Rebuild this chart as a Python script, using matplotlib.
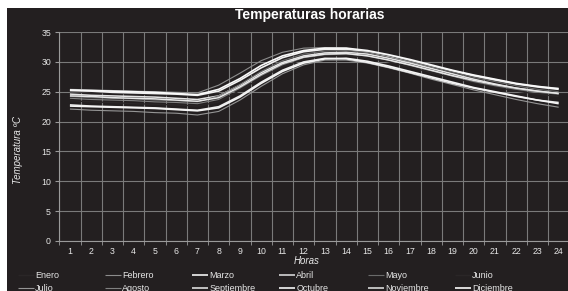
import matplotlib
matplotlib.use('Agg')
import matplotlib.pyplot as plt
from matplotlib.patches import Rectangle

plt.rcParams['font.family'] = ['Liberation Sans', 'DejaVu Sans']

hours = list(range(1, 25))
months = ['Enero', 'Febrero', 'Marzo', 'Abril', 'Mayo', 'Junio',
          'Julio', 'Agosto', 'Septiembre', 'Octubre', 'Noviembre', 'Diciembre']

enero = [25.0, 24.9, 24.8, 24.6, 24.5, 24.4, 24.2, 25.0, 26.8, 28.9, 30.6, 31.6,
         32.0, 31.9, 31.5, 30.8, 30.0, 29.1, 28.3, 27.5, 26.8, 26.2, 25.7, 25.3]
febrero = [25.4, 25.3, 25.2, 25.1, 25.0, 24.9, 24.8, 26.1, 28.1, 30.2, 31.6, 32.3,
           32.4, 32.3, 31.7, 30.9, 30.0, 29.2, 28.4, 27.6, 26.9, 26.3, 25.9, 25.6]
marzo = [25.2, 25.1, 24.9, 24.8, 24.7, 24.6, 24.4, 25.1, 26.9, 29.0, 30.7, 31.7,
         32.1, 32.1, 31.7, 31.0, 30.2, 29.3, 28.5, 27.7, 27.0, 26.3, 25.8, 25.4]
abril = [24.6, 24.4, 24.3, 24.2, 24.1, 23.9, 23.7, 24.3, 26.1, 28.2, 29.9, 31.0,
         31.5, 31.6, 31.3, 30.6, 29.8, 28.9, 28.0, 27.1, 26.3, 25.6, 25.1, 24.7]
mayo = [24.2, 24.0, 23.9, 23.8, 23.6, 23.5, 23.3, 24.3, 26.2, 28.4, 30.2, 31.3,
        31.8, 31.9, 31.6, 31.0, 30.1, 29.2, 28.3, 27.4, 26.7, 26.0, 25.4, 25.0]
junio = [23.5, 23.3, 23.2, 23.0, 22.9, 22.8, 22.6, 23.3, 25.2, 27.3, 29.2, 30.4,
         31.0, 31.1, 30.7, 30.0, 29.1, 28.2, 27.3, 26.5, 25.8, 25.1, 24.6, 24.2]
julio = [22.1, 21.9, 21.8, 21.7, 21.5, 21.4, 21.1, 21.7, 23.6, 25.9, 28.0, 29.5,
         30.3, 30.3, 29.8, 29.0, 28.1, 27.1, 26.2, 25.3, 24.5, 23.7, 23.0, 22.4]
agosto = [23.9, 23.7, 23.6, 23.5, 23.3, 23.2, 23.0, 23.7, 25.6, 27.7, 29.5, 30.7,
          31.2, 31.3, 31.0, 30.3, 29.4, 28.5, 27.6, 26.7, 26.0, 25.4, 24.9, 24.6]
septiembre = [22.8, 22.6, 22.5, 22.4, 22.3, 22.1, 21.9, 22.5, 24.3, 26.6, 28.6, 30.0,
              30.6, 30.5, 29.9, 29.1, 28.2, 27.3, 26.4, 25.6, 24.9, 24.2, 23.6, 23.2]
octubre = [22.6, 22.5, 22.4, 22.3, 22.2, 22.0, 21.8, 22.3, 24.1, 26.4, 28.4, 29.8,
           30.5, 30.6, 30.1, 29.3, 28.4, 27.5, 26.6, 25.7, 25.0, 24.3, 23.6, 23.0]
noviembre = [24.3, 24.2, 24.0, 23.9, 23.8, 23.6, 23.4, 24.0, 25.8, 27.9, 29.7, 30.8,
             31.3, 31.4, 31.0, 30.3, 29.5, 28.6, 27.7, 26.9, 26.2, 25.6, 25.1, 24.7]
diciembre = [25.3, 25.2, 25.1, 25.0, 24.9, 24.7, 24.5, 25.4, 27.2, 29.4, 31.0, 31.9,
             32.3, 32.3, 31.9, 31.2, 30.4, 29.5, 28.6, 27.8, 27.1, 26.4, 25.9, 25.5]

series = [enero, febrero, marzo, abril, mayo, junio,
          julio, agosto, septiembre, octubre, noviembre, diciembre]
colors = ['#2a2627', '#8c8c8c', '#f2f2f2', '#e4e4e4', '#6a6a6a', '#2a2627',
          '#959595', '#808080', '#ececec', '#f5f5f5', '#e8e8e8', '#fafafa']
widths = [1.0, 0.8, 1.2, 1.1, 0.8, 1.0, 0.8, 0.8, 1.1, 1.2, 1.1, 1.2]

W, H = 568, 291
bg = '#231f20'
fig = plt.figure(figsize=(W / 100, H / 100), dpi=100, facecolor='white')
fig.patches.append(Rectangle((7 / W, 0), 1, 1 - 8 / H, transform=fig.transFigure,
                             facecolor=bg, edgecolor='none', zorder=-10))

ax = fig.add_axes([59.3 / W, 1 - 241 / H, 510 / W, 209 / H])
ax.set_facecolor(bg)
ax.set_xlim(0.5, 24.5)
ax.set_ylim(0, 35)
ax.set_yticks(range(0, 36, 5))
ax.set_xticks(hours)
ax.set_xticks([h + 0.5 for h in range(0, 25)], minor=True)
ax.grid(which='minor', axis='x', color='#7a7a7a', lw=0.8)
ax.grid(which='major', axis='y', color='#7a7a7a', lw=0.8)
ax.grid(which='major', axis='x', visible=False)
ax.tick_params(axis='x', which='major', length=0, labelcolor='#e6e6e6', labelsize=6.3, pad=4)
ax.tick_params(axis='x', which='minor', length=3, color='#9a9a9a')
ax.tick_params(axis='y', length=3, color='#9a9a9a', labelcolor='#e6e6e6', labelsize=6.3, pad=3)
for s in ['top', 'right']:
    ax.spines[s].set_visible(False)
for s in ['left', 'bottom']:
    ax.spines[s].set_color('#9a9a9a')
    ax.spines[s].set_linewidth(0.8)

handles = []
for name, vals, c, lw in zip(months, series, colors, widths):
    ln, = ax.plot(hours, vals, color=c, lw=lw, label=name, solid_capstyle='butt')
    handles.append(ln)

fig.text(310 / W, 1 - 15 / H, 'Temperaturas horarias', ha='center', va='center',
         color='white', fontsize=10, fontweight='bold')
fig.text(307 / W, 1 - 261.5 / H, 'Horas', ha='center', va='center', style='italic',
         color='#e6e6e6', fontsize=7)
fig.text(18 / W, 1 - 150 / H, 'Temperatura ºC', ha='center', va='center', rotation=90,
         style='italic', color='#e6e6e6', fontsize=7)

col_x = [18, 105, 192, 279, 368, 455]
for i, x in enumerate(col_x):
    hs = [handles[i], handles[i + 6]]
    fig.legend(hs, [months[i], months[i + 6]], loc='upper left',
               bbox_to_anchor=(x / W, 1 - 271 / H), frameon=False,
               borderpad=0, borderaxespad=0, handlelength=1.75,
               handletextpad=0.15, labelspacing=0.45, fontsize=6.5,
               labelcolor='#e6e6e6')

fig.savefig('out.png', dpi=100, facecolor=fig.get_facecolor())
